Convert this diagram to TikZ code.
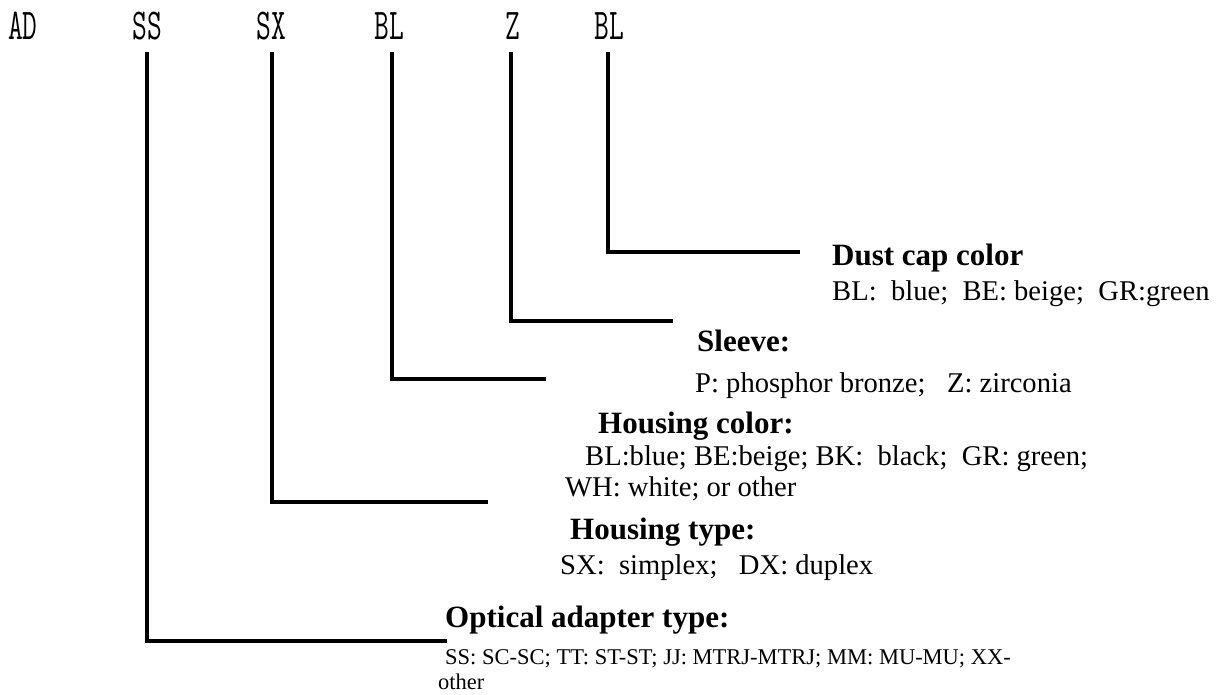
\documentclass[tikz,border=0pt]{standalone}
\usepackage{fontspec}
\setmainfont{Liberation Serif}
\newcommand{\codefnt}{\ttfamily\fontsize{44}{44}\selectfont}
\newcommand{\cd}[1]{\scalebox{0.65}[1]{#1}}
\begin{document}
\begin{tikzpicture}[x=1pt,y=-1pt,
  codelbl/.style={inner sep=0pt, anchor=base, font=\codefnt},
  headlbl/.style={inner sep=0pt, anchor=base west, font=\fontsize{31}{36}\selectfont\bfseries},
  bodylbl/.style={inner sep=0pt, anchor=base west, font=\fontsize{28.6}{33}\selectfont},
  smalllbl/.style={inner sep=0pt, anchor=base west, font=\fontsize{22.5}{26}\selectfont},
  conn/.style={line width=3.2pt, draw=black}]
\useasboundingbox (0,0) rectangle (1228,695);
% codes
\node[codelbl] (c0) at (23,40) {\cd{AD}};
\node[codelbl] (c1) at (147,40) {\cd{SS}};
\node[codelbl] (c2) at (271,40) {\cd{SX}};
\node[codelbl] (c3) at (389,40) {\cd{BL}};
\node[codelbl] (c4) at (513,40) {\cd{Z}};
\node[codelbl] (c5) at (609,40) {\cd{BL}};
% line ends
\coordinate (t1) at (147,52);
\coordinate (t2) at (272,52);
\coordinate (t3) at (392,52);
\coordinate (t4) at (511,52);
\coordinate (t5) at (608,52);
\coordinate (e1) at (447,641);
\coordinate (e2) at (488,502);
\coordinate (e3) at (546,379);
\coordinate (e4) at (673,321);
\coordinate (e5) at (800,252);
\draw[conn] (t1) |- (e1);
\draw[conn] (t2) |- (e2);
\draw[conn] (t3) |- (e3);
\draw[conn] (t4) |- (e4);
\draw[conn] (t5) |- (e5);
% labels
\node[headlbl] (h5) at (832,265) {Dust cap color};
\node[bodylbl] (b5) at (832,300) {BL:~~blue;~~BE: beige;~~GR:green};
\node[headlbl] (h4) at (697,351) {Sleeve:};
\node[bodylbl] (b4) at (695,392) {P: phosphor bronze;~~~Z: zirconia};
\node[headlbl] (h3) at (598,433) {Housing color:};
\node[bodylbl] (b3a) at (585,465) {BL:blue; BE:beige; BK:~~black;~~GR: green;};
\node[bodylbl] (b3b) at (565,496) {WH: white; or other};
\node[headlbl] (h2) at (570,539) {Housing type:};
\node[bodylbl] (b2) at (560,574) {SX:~~simplex;~~~DX: duplex};
\node[headlbl] (h1) at (445,627) {Optical adapter type:};
\node[smalllbl] (b1a) at (445,664) {SS: SC-SC; TT: ST-ST; JJ: MTRJ-MTRJ; MM: MU-MU; XX-};
\node[smalllbl] (b1b) at (438,689) {other};
\end{tikzpicture}
\end{document}
